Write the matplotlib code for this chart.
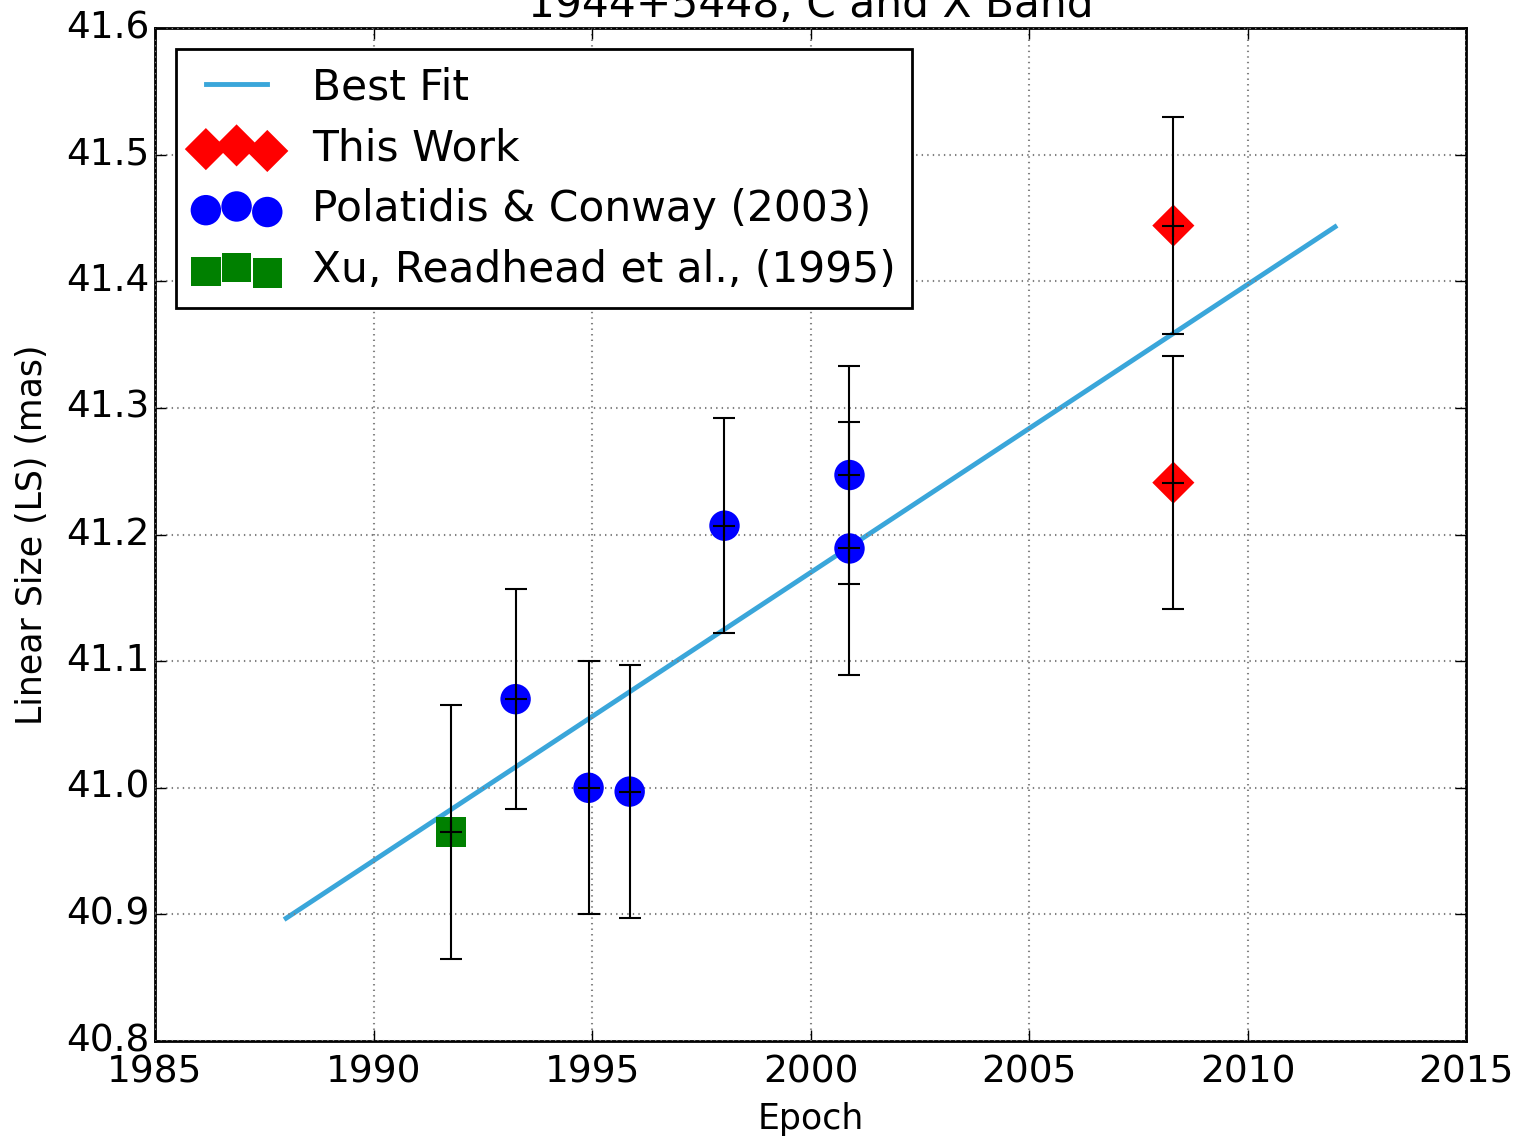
import matplotlib
matplotlib.use('Agg')
import matplotlib.pyplot as plt

plt.style.use('classic')

# Best fit line endpoints
fit_epoch = [1988.0, 2012.0]
fit_size = [40.897, 41.443]

# This Work
this_epoch = [2008.3, 2008.3]
this_size = [41.444, 41.241]
this_err = [0.086, 0.100]

# Polatidis & Conway (2003)
pc_epoch = [1993.25, 1994.92, 1995.86, 1998.03, 2000.89, 2000.89]
pc_size = [41.070, 41.000, 40.997, 41.207, 41.247, 41.189]
pc_err = [0.087, 0.100, 0.100, 0.085, 0.086, 0.100]

# Xu, Readhead et al. (1995)
xu_epoch = [1991.77]
xu_size = [40.965]
xu_err = [0.100]

x_ticks = [1985, 1990, 1995, 2000, 2005, 2010, 2015]
y_ticks = [40.8, 40.9, 41.0, 41.1, 41.2, 41.3, 41.4, 41.5, 41.6]

fig = plt.figure(figsize=(15.14, 11.4), dpi=100)
ax = fig.add_axes([0.1024, 0.0868, 0.8660, 0.8886])

ax.plot(fit_epoch, fit_size, color='#3aa6da', linewidth=3.5, label='Best Fit')
ax.scatter(this_epoch, this_size, marker='D', s=460, color='red', edgecolors='none',
           label='This Work', zorder=3)
ax.scatter(pc_epoch, pc_size, marker='o', s=480, color='blue', edgecolors='none',
           label='Polatidis & Conway (2003)', zorder=3)
ax.scatter(xu_epoch, xu_size, marker='s', s=450, color='green', edgecolors='none',
           label='Xu, Readhead et al., (1995)', zorder=3)

for ep, sz, er in [(this_epoch, this_size, this_err), (pc_epoch, pc_size, pc_err),
                   (xu_epoch, xu_size, xu_err)]:
    ax.errorbar(ep, sz, yerr=er, fmt='k+', markersize=16, elinewidth=1.5,
                capsize=8, capthick=1.5, mew=1.5, zorder=4)

ax.set_xlim(1985, 2015)
ax.set_ylim(40.8, 41.6)
ax.set_xticks(x_ticks)
ax.set_xticklabels([str(t) for t in x_ticks])
ax.set_yticks(y_ticks)
ax.set_yticklabels(['%.1f' % t for t in y_ticks])
ax.tick_params(labelsize=27, length=8, width=1)
ax.tick_params(axis='x', pad=10)
ax.grid(True, color='gray', linestyle=':', linewidth=1.5)
for sp in ax.spines.values():
    sp.set_linewidth(2)

ax.set_xlabel('Epoch', fontsize=25, labelpad=8)
ax.set_ylabel('Linear Size (LS) (mas)', fontsize=25, labelpad=12)
ax.set_title('1944+5448, C and X Band', fontsize=30.5, pad=8)

leg = ax.legend(loc='upper left', fontsize=30.5, scatterpoints=3, numpoints=2,
                borderaxespad=0.5, borderpad=0.4, handlelength=2.05,
                handletextpad=0.75, labelspacing=0.45)
leg.get_frame().set_linewidth(2)

fig.savefig('out.png', dpi=100)
